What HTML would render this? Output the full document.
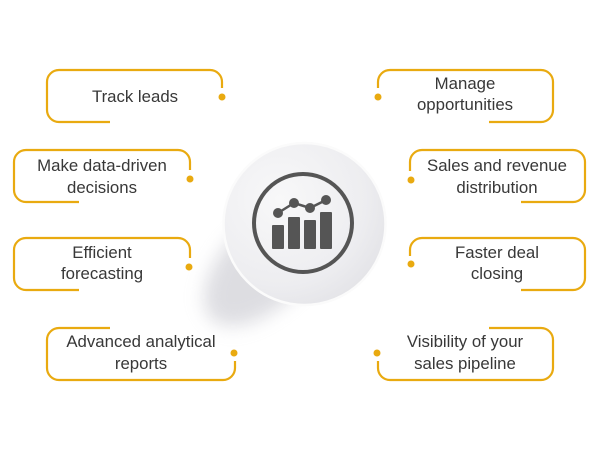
<!DOCTYPE html>
<html><head><meta charset="utf-8"><style>
html,body{margin:0;padding:0;background:#fff;}
body{width:600px;height:450px;overflow:hidden;}
svg text{font-family:"Liberation Sans",sans-serif;font-size:16.8px;fill:#383838;text-anchor:middle;}
</style></head><body>
<svg width="600" height="450" viewBox="0 0 600 450" xmlns="http://www.w3.org/2000/svg">
<defs>
<filter id="b" x="-50%" y="-50%" width="200%" height="200%"><feGaussianBlur stdDeviation="9"/></filter>
<radialGradient id="g" cx="0.35" cy="0.35" r="0.75">
<stop offset="0" stop-color="#f8f8f9"/><stop offset="0.7" stop-color="#ededf0"/><stop offset="1" stop-color="#e2e2e6"/>
</radialGradient>
</defs>
<ellipse cx="268" cy="262" rx="80" ry="42" transform="rotate(-45 268 262)" fill="#bcbcc5" opacity="0.5" filter="url(#b)"/>
<g fill="none" stroke="#e9aa10" stroke-width="2.2">
<path d="M110,122 H59 A12,12 0 0 1 47,110 V82 A12,12 0 0 1 59,70 H210 A12,12 0 0 1 222,82 V88"/>
<path d="M79,202 H26 A12,12 0 0 1 14,190 V162 A12,12 0 0 1 26,150 H178 A12,12 0 0 1 190,162 V170"/>
<path d="M79,290 H26 A12,12 0 0 1 14,278 V250 A12,12 0 0 1 26,238 H178 A12,12 0 0 1 190,250 V258"/>
<path d="M110,328 H59 A12,12 0 0 0 47,340 V368 A12,12 0 0 0 59,380 H223 A12,12 0 0 0 235,368 V361"/>
<path d="M489,122 H541 A12,12 0 0 0 553,110 V82 A12,12 0 0 0 541,70 H390 A12,12 0 0 0 378,82 V88"/>
<path d="M521,202 H573 A12,12 0 0 0 585,190 V162 A12,12 0 0 0 573,150 H422 A12,12 0 0 0 410,162 V171"/>
<path d="M521,290 H573 A12,12 0 0 0 585,278 V250 A12,12 0 0 0 573,238 H422 A12,12 0 0 0 410,250 V256"/>
<path d="M489,328 H541 A12,12 0 0 1 553,340 V368 A12,12 0 0 1 541,380 H390 A12,12 0 0 1 378,368 V361"/>
</g>
<g fill="#e9aa10">
<circle cx="222" cy="97" r="3.5"/><circle cx="190" cy="179" r="3.5"/><circle cx="189" cy="267" r="3.5"/><circle cx="234" cy="353" r="3.5"/>
<circle cx="378" cy="97" r="3.5"/><circle cx="411" cy="180" r="3.5"/><circle cx="411" cy="264" r="3.5"/><circle cx="377" cy="353" r="3.5"/>
</g>
<text x="135" y="102">Track leads</text>
<text x="102" y="171">Make data-driven</text><text x="102" y="193">decisions</text>
<text x="102" y="258">Efficient</text><text x="102" y="279">forecasting</text>
<text x="141" y="347">Advanced analytical</text><text x="141" y="369">reports</text>
<text x="465" y="89">Manage</text><text x="465" y="110">opportunities</text>
<text x="497" y="171">Sales and revenue</text><text x="497" y="193">distribution</text>
<text x="497" y="258">Faster deal</text><text x="497" y="279">closing</text>
<text x="465" y="347">Visibility of your</text><text x="465" y="369">sales pipeline</text>
<circle cx="304.5" cy="224" r="82" fill="url(#g)"/>
<circle cx="304.5" cy="224" r="81" fill="none" stroke="#fbfbfb" stroke-width="2.5"/>
<circle cx="303" cy="223" r="49" fill="none" stroke="#555" stroke-width="4"/>
<g fill="#555">
<rect x="272" y="225" width="12" height="24" rx="1"/>
<rect x="288" y="217" width="12" height="32" rx="1"/>
<rect x="304" y="220" width="12" height="29" rx="1"/>
<rect x="320" y="212" width="12" height="37" rx="1"/>
<circle cx="278" cy="213" r="5"/><circle cx="294" cy="203" r="5"/><circle cx="310" cy="208" r="5"/><circle cx="326" cy="200" r="5"/>
</g>
<polyline points="278,213 294,203 310,208 326,200" fill="none" stroke="#555" stroke-width="2.5"/>
</svg>
</body></html>
